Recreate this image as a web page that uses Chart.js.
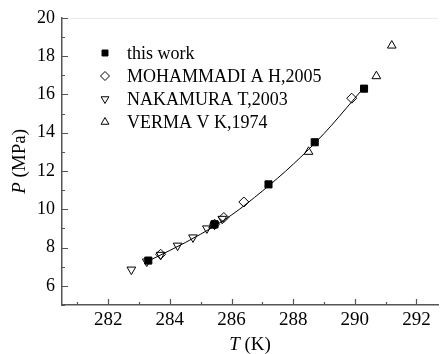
<!DOCTYPE html>
<html>
<head>
<meta charset="utf-8">
<script src="https://cdn.jsdelivr.net/npm/chart.js@4.4.0/dist/chart.umd.min.js"></script>
<style>
    html, body { margin: 0; padding: 0; background: #fff; }
</style>
</head>
<body>
<canvas id="chart" width="444" height="354"></canvas>
<script>
// data
const tThis = [283.3, 285.45, 287.2, 288.7, 290.3];
const pThis = [7.32, 9.22, 11.3, 13.5, 16.3];

const tMoh = [283.7, 285.45, 285.75, 286.4, 289.9];
const pMoh = [7.65, 9.22, 9.57, 10.38, 15.8];

const tNak = [282.75, 283.25, 283.7, 284.25, 284.75, 285.2, 285.45, 285.7];
const pNak = [6.85, 7.27, 7.62, 8.1, 8.53, 9.0, 9.2, 9.5];

const tVer = [285.4, 288.5, 290.7, 291.2];
const pVer = [9.15, 13.0, 16.95, 18.55];

// fitted curve
const tFit = [283.3, 284.0, 285.0, 286.0, 287.0, 288.0, 289.0, 290.0, 290.35];
const pFit = [7.3, 7.85, 8.7, 9.7, 10.95, 12.35, 13.95, 15.8, 16.46];

const xTicks = [282, 284, 286, 288, 290, 292];
const yTicks = [6, 8, 10, 12, 14, 16, 18, 20];

const legendNames = ['this work', 'MOHAMMADI A H,2005', 'NAKAMURA T,2003', 'VERMA V K,1974'];

const FONT = "'Times New Roman', 'Liberation Serif', 'DejaVu Serif', serif";
const AXIS = '#555';

function pts(ts, ps) {
    return ts.map((t, i) => ({ x: t, y: ps[i] }));
}

function range(a, b) {
    const out = [];
    for (let v = a; v <= b; v++) out.push(v);
    return out;
}

// same shapes as Chart.js point styles, for the legend
function marker(ctx, style, x, y, r, fill) {
    ctx.beginPath();
    if (style === 'rect') {
        const s = r * Math.SQRT1_2;
        ctx.rect(x - s, y - s, 2 * s, 2 * s);
    } else if (style === 'rectRot') {
        ctx.moveTo(x, y - r); ctx.lineTo(x + r, y); ctx.lineTo(x, y + r); ctx.lineTo(x - r, y);
        ctx.closePath();
    } else {
        const dir = style === 'down' ? -1 : 1;
        for (let k = 0; k < 3; k++) {
            const a = k * 2 * Math.PI / 3;
            const px = x + Math.sin(a) * r;
            const py = y - dir * Math.cos(a) * r;
            if (k === 0) ctx.moveTo(px, py); else ctx.lineTo(px, py);
        }
        ctx.closePath();
    }
    if (fill) { ctx.fillStyle = '#000'; ctx.fill(); }
    ctx.strokeStyle = '#000';
    ctx.lineWidth = 1;
    ctx.stroke();
}

const decor = {
    id: 'decor',
    afterDraw(chart) {
        const ctx = chart.ctx;
        const a = chart.chartArea;
        const xs = chart.scales.x, ys = chart.scales.y;
        ctx.save();

        // faint top frame line
        ctx.strokeStyle = '#e8e8e8';
        ctx.lineWidth = 1;
        ctx.beginPath();
        ctx.moveTo(a.left, a.top + 0.5);
        ctx.lineTo(a.right, a.top + 0.5);
        ctx.stroke();

        // inward ticks
        ctx.strokeStyle = AXIS;
        ctx.lineWidth = 1.2;
        ctx.beginPath();
        range(281, 292).forEach(v => {
            const px = Math.round(xs.getPixelForValue(v)) + 0.5;
            const len = v % 2 === 0 ? 6 : 3;
            ctx.moveTo(px, a.bottom);
            ctx.lineTo(px, a.bottom - len);
        });
        range(5, 20).forEach(v => {
            const py = Math.round(ys.getPixelForValue(v)) + 0.5;
            const len = v % 2 === 0 ? 6 : 3;
            ctx.moveTo(a.left, py);
            ctx.lineTo(a.left + len, py);
        });
        ctx.stroke();

        // axis titles, italic symbol + upright unit
        ctx.fillStyle = '#000';
        ctx.textBaseline = 'middle';
        ctx.textAlign = 'left';
        const it = 'italic 19px ' + FONT, up = '19px ' + FONT;

        ctx.font = it; const wT = ctx.measureText('T').width;
        ctx.font = up; const wK = ctx.measureText(' (K)').width;
        let sx = (a.left + a.right) / 2 - (wT + wK) / 2;
        ctx.font = it; ctx.fillText('T', sx, 345);
        ctx.font = up; ctx.fillText(' (K)', sx + wT, 345);

        ctx.font = it; const wP = ctx.measureText('P').width;
        ctx.font = up; const wM = ctx.measureText(' (MPa)').width;
        ctx.save();
        ctx.translate(20, (a.top + a.bottom) / 2);
        ctx.rotate(-Math.PI / 2);
        sx = -(wP + wM) / 2;
        ctx.font = it; ctx.fillText('P', sx, 0);
        ctx.font = up; ctx.fillText(' (MPa)', sx + wP, 0);
        ctx.restore();

        // legend
        const styles = ['rect', 'rectRot', 'down', 'up'];
        ctx.font = '18px ' + FONT;
        legendNames.forEach((name, i) => {
            const ly = 53 + i * 23;
            marker(ctx, styles[i], 105, ly, styles[i] === 'rect' ? 4.2 : 4.5, i === 0);
            ctx.fillStyle = '#000';
            ctx.fillText(name, 127, ly + 1);
        });

        ctx.restore();
    }
};

const scatterSet = (label, data, style, rot, fill) => ({
    type: 'scatter',
    label: label,
    data: data,
    pointStyle: style,
    rotation: rot,
    radius: 5,
    borderColor: '#000',
    borderWidth: 1,
    backgroundColor: fill ? '#000' : 'rgba(0,0,0,0)'
});

new Chart(document.getElementById('chart').getContext('2d'), {
    type: 'scatter',
    data: {
        datasets: [
            scatterSet(legendNames[0], pts(tThis, pThis), 'rect', 0, true),
            scatterSet(legendNames[1], pts(tMoh, pMoh), 'rectRot', 0, false),
            scatterSet(legendNames[2], pts(tNak, pNak), 'triangle', 180, false),
            scatterSet(legendNames[3], pts(tVer, pVer), 'triangle', 0, false),
            {
                type: 'line',
                label: 'fit',
                data: pts(tFit, pFit),
                borderColor: '#000',
                borderWidth: 1,
                pointRadius: 0,
                fill: false,
                cubicInterpolationMode: 'monotone'
            }
        ]
    },
    options: {
        responsive: false,
        animation: false,
        layout: { padding: { left: 0, top: 17, right: 0, bottom: 0 } },
        plugins: {
            legend: { display: false },
            tooltip: { enabled: false }
        },
        scales: {
            x: {
                type: 'linear',
                min: 280.5,
                max: 292.7,
                afterBuildTicks: s => { s.ticks = xTicks.map(v => ({ value: v })); },
                afterFit: s => { s.height = 49; },
                grid: { display: true, drawOnChartArea: false, drawTicks: false },
                border: { color: AXIS, width: 1.5 },
                ticks: {
                    padding: 4,
                    color: '#000',
                    font: { family: FONT, size: 19 },
                    maxRotation: 0
                }
            },
            y: {
                type: 'linear',
                min: 5,
                max: 20,
                afterBuildTicks: s => { s.ticks = yTicks.map(v => ({ value: v })); },
                afterFit: s => { s.width = 62; },
                grid: { display: true, drawOnChartArea: false, drawTicks: false },
                border: { color: AXIS, width: 1.5 },
                ticks: {
                    padding: 7,
                    color: '#000',
                    font: { family: FONT, size: 18 }
                }
            }
        }
    },
    plugins: [decor]
});
</script>
</body>
</html>
